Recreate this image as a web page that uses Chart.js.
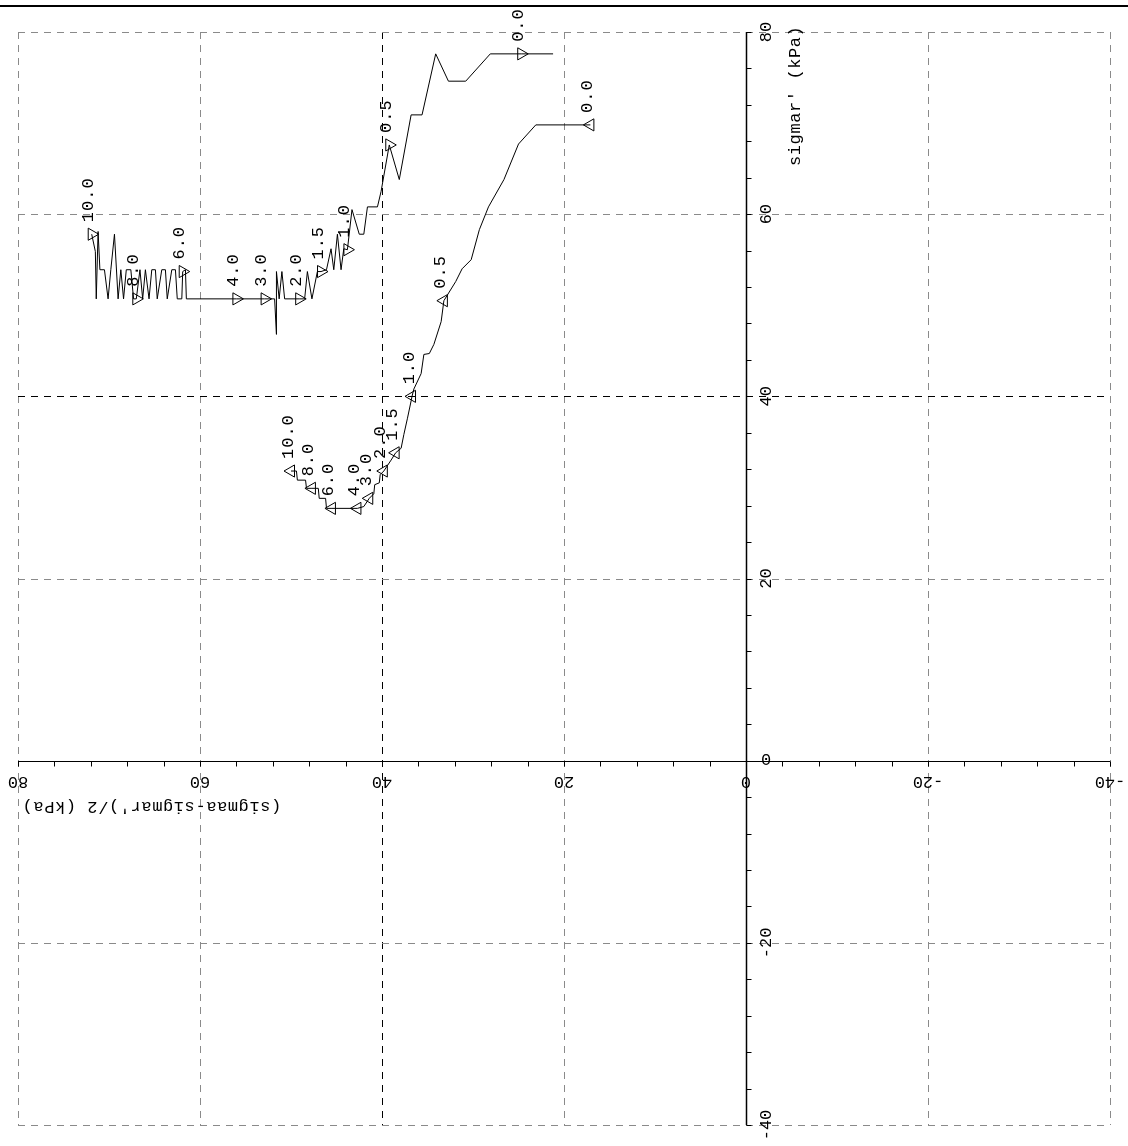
<!DOCTYPE html>
<html>
<head>
<meta charset="utf-8">
<script src="https://cdn.jsdelivr.net/npm/chart.js@4.4.0/dist/chart.umd.min.js"></script>
<style>
  html, body { margin: 0; padding: 0; background: #fff; }
  #wrap { width: 1128px; height: 1146px; }
</style>
</head>
<body>
<div id="wrap"><canvas id="stress-path" width="1128" height="1146"></canvas></div>
<script>
// stress paths

const xTickValues = [80, 60, 40, 20, 0, -20, -40];
const yTickValues = [80, 60, 40, 20, 0, -20, -40];
const xTitle = "(sigmaa-sigmar')/2 (kPa)";
const yTitle = "sigmar' (kPa)";
const markLabels = ['10.0', '8.0', '6.0', '4.0', '3.0', '2.0', '1.5', '1.0', '0.5', '0.0'];

// upper path (right pointing markers)
const upperX = [71.9, 71.5, 71.4, 71.2, 71.0, 70.5, 70.1, 69.8, 69.4, 69.0, 68.7, 68.4, 68.1, 67.6, 67.3, 67.0,
  66.6, 66.3, 66.0, 65.6, 65.3, 64.9, 64.7, 64.2, 63.8, 63.6, 63.1, 62.7, 62.5, 62.0, 61.9, 61.6, 61.5,
  56.0, 52.9, 51.8, 51.6, 51.6, 51.3, 51.0, 50.7, 49.1, 48.5, 48.2, 47.7, 47.1, 46.7, 46.1, 45.6, 45.3,
  44.9, 44.5, 44.2, 43.8, 43.3, 42.5, 42.0, 41.6, 40.5, 40.1, 39.2, 38.1, 36.8, 35.6, 34.1, 32.7, 30.8,
  28.1, 24.7, 21.2];
const upperY = [57.8, 55.9, 50.7, 58.1, 53.9, 53.9, 50.7, 53.9, 57.8, 50.7, 53.9, 50.7, 53.9, 53.9, 50.7, 50.7,
  53.9, 50.7, 53.9, 50.7, 53.9, 53.9, 50.7, 53.9, 53.9, 50.7, 53.9, 53.9, 50.7, 50.7, 53.7, 53.9, 50.7,
  50.7, 50.7, 50.7, 46.8, 53.7, 50.7, 53.7, 50.7, 50.7, 50.7, 53.7, 50.7, 53.7, 53.7, 53.9, 56.2, 53.9,
  57.8, 53.9, 56.2, 56.1, 60.5, 57.8, 57.8, 60.8, 60.8, 62.5, 67.6, 63.8, 70.9, 70.9, 77.6, 74.6, 74.6,
  77.6, 77.6, 77.6];
const upperMarkX = [71.9, 67.0, 61.9, 56.0, 52.9, 49.1, 46.7, 43.8, 39.2, 24.7];
const upperMarkY = [57.8, 50.7, 53.7, 50.7, 50.7, 50.7, 53.7, 56.1, 67.6, 77.6];

// lower path (left pointing markers)
const lowerX = [50.0, 49.4, 49.3, 48.4, 48.3, 47.7, 47.0, 46.9, 46.2, 46.1, 45.5, 42.7, 42.0, 41.4, 40.9, 40.8,
  40.3, 40.2, 39.8, 39.4, 39.0, 38.5, 37.9, 37.6, 37.2, 36.8, 36.7, 36.5, 35.7, 35.4, 34.8, 34.3, 33.5,
  33.2, 31.9, 31.2, 30.2, 29.3, 28.3, 26.6, 25.0, 23.1, 17.1];
const lowerY = [31.8, 31.8, 30.8, 30.8, 29.9, 29.9, 29.9, 28.8, 28.8, 27.7, 27.7, 27.7, 27.9, 28.8, 29.3, 30.3,
  30.5, 31.4, 31.8, 32.4, 33.0, 33.8, 34.3, 35.8, 37.6, 39.5, 40.0, 40.8, 42.5, 44.6, 44.7, 45.7, 48.2,
  50.5, 52.6, 54.0, 55.0, 58.3, 60.8, 63.8, 67.7, 69.8, 69.8];
const lowerMarkX = [50.0, 47.7, 45.5, 42.7, 41.4, 39.8, 38.5, 36.7, 33.2, 17.1];
const lowerMarkY = [31.8, 29.9, 27.7, 27.7, 28.8, 31.8, 33.8, 40.0, 50.5, 69.8];

function pts(xs, ys) {
  return xs.map(function (x, i) { return { x: x, y: ys[i] }; });
}

const FONT = '17px "Liberation Mono", "DejaVu Sans Mono", monospace';

function textAt(ctx, str, x, y, angle, align) {
  ctx.save();
  ctx.translate(x, y);
  ctx.rotate(angle);
  ctx.textAlign = align || 'center';
  ctx.textBaseline = 'middle';
  ctx.fillText(str, 0, 0);
  ctx.restore();
}

const frame = {
  id: 'frame',
  beforeDraw(chart) {
    const ctx = chart.ctx;
    ctx.save();
    ctx.fillStyle = '#fff';
    ctx.fillRect(0, 0, chart.width, chart.height);
    ctx.fillStyle = '#000';
    ctx.fillRect(0, 5, chart.width, 2);
    ctx.restore();
  },
  beforeDatasetsDraw(chart) {
    const ctx = chart.ctx;
    const xs = chart.scales.x, ys = chart.scales.y;
    const a = chart.chartArea;
    ctx.save();
    ctx.lineWidth = 1;
    ctx.setLineDash([7, 6]);
    xTickValues.forEach(function (v) {
      if (v === 0) return;
      const px = Math.round(xs.getPixelForValue(v)) + 0.5;
      ctx.strokeStyle = v === 40 ? '#000' : '#8a8a8a';
      ctx.beginPath(); ctx.moveTo(px, a.top); ctx.lineTo(px, a.bottom); ctx.stroke();
    });
    yTickValues.forEach(function (v) {
      if (v === 0) return;
      const py = Math.round(ys.getPixelForValue(v)) + 0.5;
      ctx.strokeStyle = v === 40 ? '#000' : '#8a8a8a';
      ctx.beginPath(); ctx.moveTo(a.left, py); ctx.lineTo(a.right, py); ctx.stroke();
    });
    ctx.setLineDash([]);
    ctx.strokeStyle = '#000';
    const x0 = Math.round(xs.getPixelForValue(0)) + 0.5;
    const y0 = Math.round(ys.getPixelForValue(0)) + 0.5;
    ctx.beginPath(); ctx.moveTo(a.left, y0); ctx.lineTo(a.right, y0); ctx.stroke();
    ctx.lineWidth = 1.5;
    ctx.beginPath(); ctx.moveTo(x0, a.top); ctx.lineTo(x0, a.bottom); ctx.stroke();
    ctx.lineWidth = 1;
    for (let v = -40; v <= 80; v += 4) {
      const px = Math.round(xs.getPixelForValue(v)) + 0.5;
      ctx.beginPath(); ctx.moveTo(px, y0); ctx.lineTo(px, y0 + 5); ctx.stroke();
      const py = Math.round(ys.getPixelForValue(v)) + 0.5;
      ctx.beginPath(); ctx.moveTo(x0, py); ctx.lineTo(x0 + 5, py); ctx.stroke();
    }
    ctx.restore();
  },
  afterDatasetsDraw(chart) {
    const ctx = chart.ctx;
    const xs = chart.scales.x, ys = chart.scales.y;
    const x0 = xs.getPixelForValue(0), y0 = ys.getPixelForValue(0);
    ctx.save();
    ctx.fillStyle = '#000';
    ctx.font = FONT;
    xTickValues.forEach(function (v) {
      textAt(ctx, String(v), xs.getPixelForValue(v), y0 + 21, Math.PI);
    });
    yTickValues.forEach(function (v) {
      textAt(ctx, String(v), x0 + 20, ys.getPixelForValue(v), v === 0 ? 0 : -Math.PI / 2);
    });
    ctx.letterSpacing = '0.6px';
    textAt(ctx, xTitle, xs.getPixelForValue(80) + 4, y0 + 46, Math.PI, 'right');
    textAt(ctx, yTitle, x0 + 49, ys.getPixelForValue(80) + 134, -Math.PI / 2, 'left');
    // marker labels, read upwards
    ctx.letterSpacing = '1px';
    [1, 3].forEach(function (di) {
      chart.getDatasetMeta(di).data.forEach(function (p, i) {
        textAt(ctx, markLabels[i], p.x - 3, p.y - 12, -Math.PI / 2, 'left');
      });
    });
    ctx.restore();
  }
};

new Chart(document.getElementById('stress-path').getContext('2d'), {
  type: 'scatter',
  data: {
    datasets: [
      { data: pts(upperX, upperY), showLine: true, borderColor: '#000', borderWidth: 1, pointRadius: 0, tension: 0 },
      { data: pts(upperMarkX, upperMarkY), showLine: false, pointStyle: 'triangle', rotation: 90, pointRadius: 7,
        borderColor: '#000', borderWidth: 1, backgroundColor: 'rgba(255,255,255,0)' },
      { data: pts(lowerX, lowerY), showLine: true, borderColor: '#000', borderWidth: 1, pointRadius: 0, tension: 0 },
      { data: pts(lowerMarkX, lowerMarkY), showLine: false, pointStyle: 'triangle', rotation: -90, pointRadius: 7,
        borderColor: '#000', borderWidth: 1, backgroundColor: 'rgba(255,255,255,0)' }
    ]
  },
  options: {
    responsive: false,
    animation: false,
    devicePixelRatio: 1,
    layout: { padding: { left: 18, right: 18, top: 32, bottom: 21 } },
    plugins: { legend: { display: false }, tooltip: { enabled: false } },
    scales: {
      x: { type: 'linear', reverse: true, min: -40, max: 80, display: false },
      y: { type: 'linear', min: -40, max: 80, display: false }
    }
  },
  plugins: [frame]
});
</script>
</body>
</html>
